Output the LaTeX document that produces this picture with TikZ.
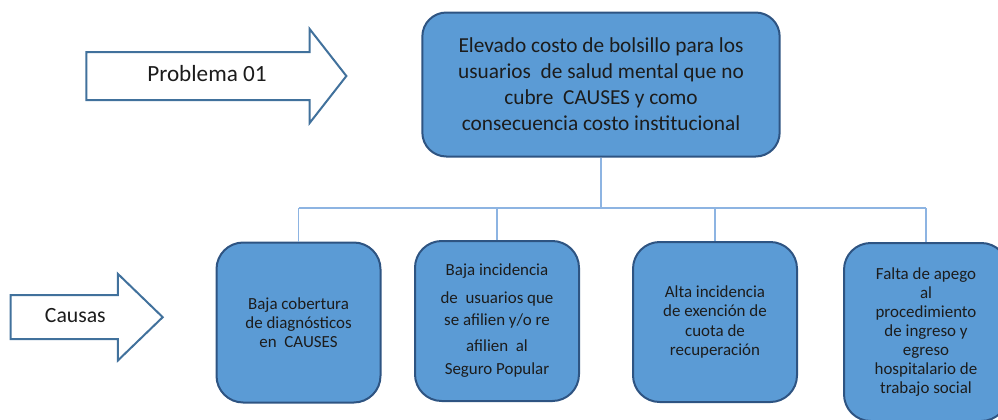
\documentclass[tikz,border=0pt]{standalone}
\usepackage{fontspec}
\setmainfont{Carlito}
\usepackage{tikz}
\usetikzlibrary{positioning, shapes.arrows}

\definecolor{boxfill}{RGB}{91,155,213}
\definecolor{boxline}{RGB}{46,84,130}
\definecolor{arrowline}{RGB}{65,113,156}
\definecolor{busline}{RGB}{141,180,226}
\definecolor{txt}{RGB}{28,28,28}

\tikzset{
	problem/.style={rectangle, rounded corners=18pt, draw=boxline, fill=boxfill, line width=1.5pt,
		minimum width=268pt, minimum height=108pt, align=center, text=txt,
		font=\fontsize{16}{19.5}\selectfont},
	cause/.style={rectangle, rounded corners=20pt, draw=boxline, fill=boxfill, line width=1.5pt,
		minimum width=123pt, minimum height=120pt, align=center, text=txt,
		font=\fontsize{12.7}{14.3}\selectfont},
	tag/.style={single arrow, draw=arrowline, fill=white, line width=1.5pt, text=txt},
	bus/.style={draw=busline, line width=0.9pt},
}

\begin{document}
\begin{tikzpicture}[x=0.75pt, y=0.75pt]
			\useasboundingbox (0,0) rectangle (998,-419);
			\clip (0,0) rectangle (998,-419);
			
			% problema principal
			\node[problem] (top) at (601,-84.5) {Elevado costo de bolsillo para los\\ usuarios~ de salud mental que no\\ cubre~ CAUSES y como\\ consecuencia costo institucional};
			
			\node[tag, font=\fontsize{17.4}{20}\selectfont, text height=12pt, text depth=3.5pt, inner ysep=9.5pt,
				minimum height=195pt, single arrow head extend=17.25pt, single arrow tip angle=104]
				(prob) at (207,-76) {Problema 01};
			
			% causas
			\node[cause] (c1) at (298.5,-322.5) {Baja cobertura\\ de diagnósticos\\ en~ CAUSES};
			\node[cause] (c2) at (497,-321) {Baja incidencia\\[6.7pt] de~ usuarios que\\[2.2pt] se afilien y/o re\\[5.2pt] afilien~ al\\[3pt] Seguro Popular};
			\node[cause] (c3) at (715,-322) {Alta incidencia\\ de exención de\\ cuota de\\ recuperación};
			\node[cause, minimum height=133.5pt] (c4) at (926,-332) {Falta de apego\\ al\\ procedimiento\\ de ingreso y\\ egreso\\ hospitalario de\\ trabajo social};
			
			\node[tag, font=\fontsize{16.3}{18}\selectfont, text height=11pt, text depth=3pt, inner ysep=8.75pt,
				minimum height=114pt, single arrow head extend=16pt, single arrow tip angle=88,
				left=38.5pt of c1, yshift=4pt] (caus) {Causas};
			
			% conectores
			\coordinate (bus) at (601,-208);
			\draw[bus] (top) -- (bus);
			\draw[bus] (c1.north |- bus) -- (c4.north |- bus);
			\foreach \c in {c1,c2,c3,c4}
				\draw[bus] (\c.north) -- (\c.north |- bus);
	\end{tikzpicture}
\end{document}
